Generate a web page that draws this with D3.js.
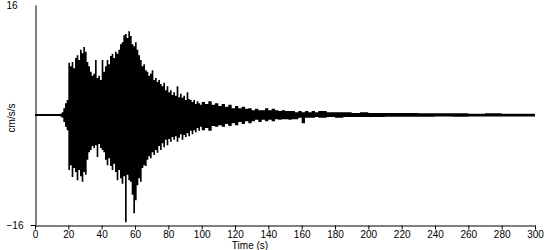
<!DOCTYPE html>
<html>
<head>
<meta charset="utf-8">
<script src="https://cdn.jsdelivr.net/npm/d3@7"></script>
<style>
  body { margin: 0; background: #fff; }
  text { font-family: "Liberation Sans", Arial, sans-serif; font-size: 10px; fill: #000; }
</style>
</head>
<body>
<div id="chartContainer"></div>
<script>
// time (s) of each reading
const times = [0, 14, 15, 16, 17, 18, 19, 20, 21, 22, 23, 24, 25, 26, 27, 28, 29, 30,
  31, 32, 33, 34, 35, 36, 37, 38, 39, 40, 41, 42, 43, 44, 45, 46, 47, 48, 49, 50,
  51, 52, 53, 54, 55, 56, 57, 58, 59, 60, 61, 62, 63, 64, 65, 66, 67, 68, 69, 70,
  71, 72, 73, 74, 75, 76, 77, 78, 79, 80, 81, 82, 83, 84, 85, 86, 87, 88, 89, 90,
  91, 92, 93, 94, 95, 96, 97, 98, 99, 100, 102, 104, 106, 108, 110, 112, 114, 116, 118, 120,
  122, 124, 126, 128, 130, 132, 134, 136, 138, 140, 142, 144, 146, 148, 150, 152, 154, 156, 158, 160,
  162, 164, 166, 168, 170, 175, 180, 185, 190, 195, 200, 210, 220, 230, 240, 250, 260, 270, 280, 290, 300];

// peak positive acceleration (cm/s/s)
const upper = [0.15, 0.15, 0.2, 0.4, 1.0, 1.7, 2.2, 7.6, 7.1, 7.7, 6.8, 8.3, 8.7, 8.0, 9.5, 9.0, 9.9, 9.2,
  7.7, 7.1, 6.3, 5.7, 6.0, 8.0, 5.4, 5.7, 5.1, 8.0, 6.3, 7.1, 8.0, 7.4, 8.6, 8.9, 8.3, 9.2, 8.9, 9.5,
  10.3, 10.6, 11.6, 11.8, 11.2, 12.2, 11.5, 10.3, 10.0, 10.6, 9.5, 8.7, 8.0, 7.1, 7.4, 6.5, 6.3, 5.7, 6.0, 6.5,
  5.1, 5.4, 4.8, 5.1, 4.5, 4.2, 4.7, 3.6, 4.2, 3.3, 3.6, 2.9, 3.3, 2.8, 4.2, 2.6, 3.1, 2.5, 2.8, 2.2,
  3.3, 2.3, 2.2, 1.9, 2.2, 1.6, 2.0, 1.7, 1.5, 1.9, 1.6, 2.0, 1.5, 1.7, 1.3, 1.6, 1.2, 1.5, 1.0, 1.3,
  1.0, 1.2, 0.9, 1.0, 0.7, 0.9, 0.7, 0.7, 1.0, 0.7, 0.9, 0.7, 0.6, 0.7, 0.6, 0.6, 0.6, 0.4, 0.6, 0.4,
  0.6, 0.4, 0.6, 0.4, 0.6, 0.4, 0.4, 0.4, 0.3, 0.4, 0.3, 0.3, 0.3, 0.25, 0.25, 0.25, 0.2, 0.25, 0.2, 0.2, 0.2];

// peak negative acceleration (cm/s/s)
const lower = [-0.15, -0.15, -0.2, -0.4, -1.0, -1.7, -2.2, -8.0, -7.3, -9.0, -7.7, -8.3, -9.5, -8.0, -8.9, -9.7, -8.3, -8.7,
  -6.5, -5.4, -5.1, -4.5, -4.8, -4.4, -6.1, -4.2, -4.8, -5.1, -5.4, -6.5, -7.3, -6.3, -7.4, -8.0, -7.1, -8.3, -9.5, -8.0,
  -9.2, -10.0, -8.9, -15.6, -8.7, -9.5, -9.7, -11.6, -14.3, -12.4, -10.2, -9.2, -9.7, -7.7, -7.3, -7.4, -6.5, -6.0, -6.3, -5.4,
  -5.8, -5.1, -5.5, -4.5, -5.1, -4.1, -4.7, -3.6, -4.4, -3.5, -3.9, -3.2, -3.6, -3.1, -3.9, -3.3, -2.8, -3.6, -2.9, -3.2,
  -2.6, -3.1, -2.3, -2.8, -2.2, -2.5, -1.9, -2.3, -1.7, -2.2, -1.9, -2.3, -1.6, -1.7, -1.5, -1.7, -1.3, -1.6, -1.2, -1.5,
  -1.0, -1.3, -0.9, -1.2, -0.9, -0.7, -1.0, -0.7, -0.9, -0.7, -0.9, -0.6, -0.7, -0.6, -0.6, -0.7, -0.6, -0.6, -0.4, -1.2,
  -0.4, -0.4, -0.4, -0.3, -0.4, -0.3, -0.4, -0.3, -0.3, -0.3, -0.3, -0.25, -0.25, -0.25, -0.2, -0.25, -0.2, -0.2, -0.2, -0.2, -0.2];

const xTicks = [0, 20, 40, 60, 80, 100, 120, 140, 160, 180, 200, 220, 240, 260, 280, 300];
const yTicks = [-16, 16];

function pageLoaded() {
  const w = 550;
  const h = 250;

  const data = times.map((t, i) => ({ t: t, hi: upper[i], lo: lower[i] }));

  const xScale = d3.scaleLinear().domain([0, 300]).range([35, 535]);
  const yScale = d3.scaleLinear().domain([-16, 16]).range([225, 5]);

  const svg = d3
    .select("#chartContainer")
    .append("svg")
    .attr("width", w)
    .attr("height", h);

  // the trace, drawn as its peak envelope
  const area = d3
    .area()
    .x((d) => xScale(d.t))
    .y0((d) => yScale(d.lo))
    .y1((d) => yScale(d.hi))
    .curve(d3.curveStepAfter);

  svg.append("path")
    .datum(data)
    .attr("d", area)
    .attr("fill", "#000");

  // y axis
  const yAxis = d3.axisLeft(yScale).tickValues(yTicks).tickSize(5).tickSizeOuter(0).tickFormat(d3.format("d"));
  const gy = svg.append("g").attr("transform", "translate(35.5,0)").call(yAxis);
  gy.selectAll(".tick line").attr("stroke", "#000").attr("opacity", (d) => (d === 16 ? 0 : 1));
  gy.select(".domain").attr("stroke", "#000");
  gy.selectAll(".tick text")
    .attr("text-anchor", "start")
    .attr("x", -29)
    .attr("font-family", null)
    .attr("font-size", null);

  // x axis
  const xAxis = d3.axisBottom(xScale).tickValues(xTicks).tickSize(4).tickSizeOuter(0).tickPadding(1);
  const gx = svg.append("g").attr("transform", "translate(0,225.5)").call(xAxis);
  gx.select(".domain").attr("stroke", "#000");
  gx.selectAll(".tick line").attr("stroke", "#000");
  gx.selectAll(".tick text").attr("font-family", null).attr("font-size", null);

  svg.append("text")
    .attr("x", 250)
    .attr("y", 249)
    .attr("text-anchor", "middle")
    .text("Time (s)");

  svg.append("text")
    .attr("transform", "translate(15,118) rotate(-90)")
    .attr("text-anchor", "middle")
    .text("cm/s/s");
}

window.addEventListener("load", pageLoaded);
</script>
</body>
</html>
